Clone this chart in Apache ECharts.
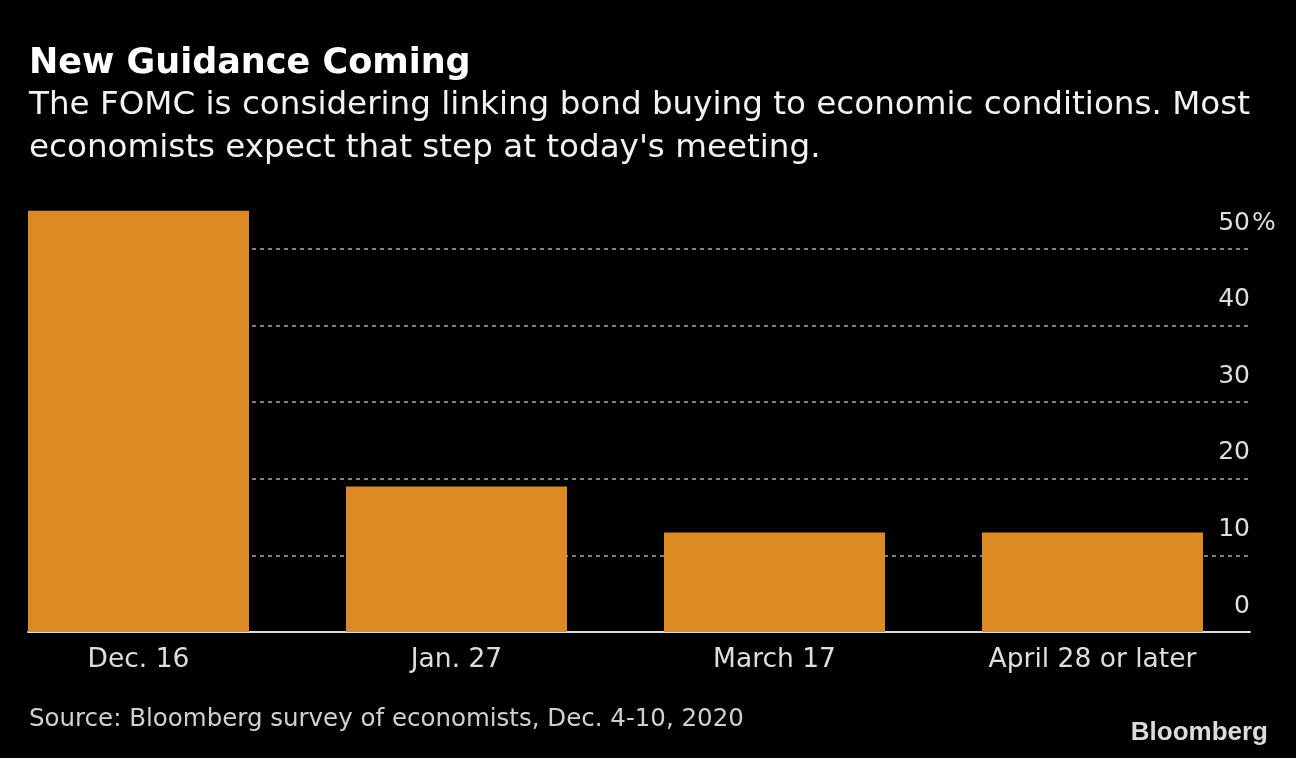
<!DOCTYPE html>
<html>
<head>
<meta charset="utf-8">
<script src="https://cdn.jsdelivr.net/npm/echarts@6/dist/echarts.min.js"></script>
<style>
html,body{margin:0;padding:0;background:#000;}
#chart{width:1296px;height:758px;}
</style>
</head>
<body>
<div id="chart"></div>
<script>
const categories = ['Dec. 16', 'Jan. 27', 'March 17', 'April 28 or later'];
const shares = [55, 19, 13, 13];
const yMin = 0, yMax = 50, yStep = 10;
const unitLabel = '%';

const titleText = 'New Guidance Coming';
const subtitleText = "The FOMC is considering linking bond buying to economic conditions. Most\neconomists expect that step at today's meeting.";
const sourceText = 'Source: Bloomberg survey of economists, Dec. 4-10, 2020';

// bar slots along a value x-axis (one slot per category)
const barData = shares.map((v, i) => [i, v]);

const chart = echarts.init(document.getElementById('chart'), null, {renderer: 'canvas'});
const labelFont = 'DejaVu Sans';
chart.setOption({
  backgroundColor: '#000',
  animation: false,
  title: [
    {text: titleText, left: 29, top: 46, padding: 0,
     textStyle: {color: '#fff', fontFamily: 'DejaVu Sans', fontWeight: 'bold', fontSize: 35}},
    {text: subtitleText, left: 29, top: 84, padding: 0,
     textStyle: {color: '#f2f2f2', fontFamily: 'DejaVu Sans', fontWeight: 'normal', fontSize: 32.6, lineHeight: 43}},
    {text: sourceText, left: 29, top: 707, padding: 0,
     textStyle: {color: '#d0d0d0', fontFamily: labelFont, fontWeight: 'normal', fontSize: 24.5}},
    {text: 'Bloomberg', right: 28, top: 720, padding: 0,
     textStyle: {color: '#dcdcdc', fontFamily: 'Liberation Sans', fontWeight: 'bold', fontSize: 26, letterSpacing: -0.6}}
  ],
  grid: [
    {left: 28, right: 46, top: 249, bottom: 126, containLabel: false}
  ],
  xAxis: [
    {gridIndex: 0, type: 'value', min: -0.3475, max: 3.4953,
     axisLine: {show: true, onZero: false, lineStyle: {color: '#dedede', width: 2}},
     axisTick: {show: false}, axisLabel: {show: false}, splitLine: {show: false}}
  ],
  yAxis: [
    {gridIndex: 0, type: 'value', position: 'right', min: yMin, max: yMax, interval: yStep,
     axisLine: {show: false}, axisTick: {show: false},
     splitLine: {show: true, lineStyle: {color: '#808080', type: [4, 4], width: 2}},
     axisLabel: {inside: true, margin: 0, align: 'right', verticalAlign: 'bottom',
       padding: [0, 0, 12, 0], lineHeight: 28,
       color: '#dedede', fontFamily: labelFont, fontSize: 25,
       formatter: v => String(v)}},
    {gridIndex: 0, type: 'value', position: 'right', min: yMin, max: yMax, interval: yStep,
     axisLine: {show: false}, axisTick: {show: false}, splitLine: {show: false},
     axisLabel: {inside: false, margin: 2, align: 'left', verticalAlign: 'bottom',
       padding: [0, 0, 12, 0], lineHeight: 28,
       color: '#dedede', fontFamily: labelFont, fontSize: 25,
       formatter: v => (v === yMax ? unitLabel : '')}}
  ],
  series: [{
    type: 'bar',
    xAxisIndex: 0, yAxisIndex: 0,
    data: barData,
    barWidth: 221,
    clip: false,
    itemStyle: {color: '#DC8A24'},
    label: {
      show: true, position: 'bottom', distance: 15,
      color: '#dedede', fontFamily: labelFont, fontSize: 26.5,
      formatter: p => categories[p.dataIndex]
    },
    z: 3
  }]
});
</script>
</body>
</html>
